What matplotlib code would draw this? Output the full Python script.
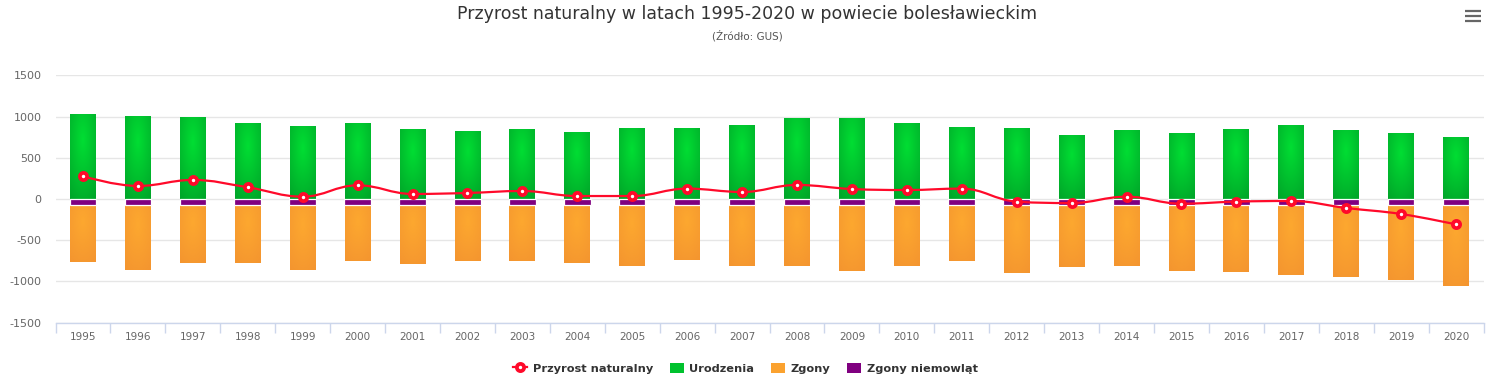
import numpy as np
import matplotlib
matplotlib.use("Agg")
import matplotlib.pyplot as plt
from matplotlib.path import Path
from matplotlib.patches import PathPatch, Patch
from matplotlib.lines import Line2D
from matplotlib.colors import to_rgb

# ---------------- data ----------------
lata = [str(y) for y in range(1995, 2021)]
urodzenia = [1021, 996, 984, 911, 875, 911, 838, 814, 838, 802, 851, 851, 887,
             972, 972, 911, 863, 851, 765, 826, 790, 838, 887, 826, 790, 741]
zgony_razem = [765, 863, 778, 778, 863, 753, 790, 753, 753, 778, 814, 741, 814,
               814, 875, 814, 753, 899, 826, 814, 875, 887, 923, 948, 984, 1057]
zgony_niemowlat = [70] * 26
przyrost = [275, 158, 231, 142, 28, 166, 61, 73, 97, 36, 36, 126, 85,
            170, 121, 109, 126, -32, -49, 28, -57, -32, -24, -109, -182, -308]

zgony = [t - n for t, n in zip(zgony_razem, zgony_niemowlat)]

plt.rcParams['font.family'] = ['DejaVu Sans']

fig = plt.figure(figsize=(15, 3.9), dpi=100)
ax = fig.add_axes([0.037, 0.1726, 0.952, 0.6343])

x = np.arange(len(lata))
w = 0.47


def radial(c0, c1, n=80, m=30, r=0.85):
    c0 = np.array(to_rgb(c0)); c1 = np.array(to_rgb(c1))
    v = np.linspace(0, 1, n)[:, None]
    u = np.linspace(0, 1, m)[None, :]
    d = np.sqrt((u - 0.5) ** 2 + (v - 0.3) ** 2) / r
    d = np.clip(d, 0, 1)[..., None]
    return c0 * (1 - d) + c1 * d


g_green = radial('#00de33', '#00a529')
g_orange = radial('#fda82f', '#f4952f')
purple = '#800080'

for i in range(len(x)):
    ax.imshow(g_green, extent=[x[i] - w / 2, x[i] + w / 2, 0, urodzenia[i]],
              origin='upper', aspect='auto', zorder=2, interpolation='bilinear')
    top = -zgony_niemowlat[i]
    bot = top - zgony[i]
    ax.imshow(g_orange, extent=[x[i] - w / 2, x[i] + w / 2, bot, top],
              origin='upper', aspect='auto', zorder=2, interpolation='bilinear')

ax.bar(x, [-n for n in zgony_niemowlat], width=w + 0.012, color=purple, edgecolor='white',
       linewidth=0.9, zorder=3)


# Highcharts-like spline
def spline_path(xs, ys, smoothing=1.5):
    n = len(xs)
    denom = smoothing + 1
    lc = [None] * n
    rc = [None] * n
    for i in range(n):
        px, py = xs[i], ys[i]
        if i == 0 or i == n - 1:
            lc[i] = (px, py); rc[i] = (px, py); continue
        lx, ly = xs[i - 1], ys[i - 1]
        nx, ny = xs[i + 1], ys[i + 1]
        lcx = (smoothing * px + lx) / denom
        lcy = (smoothing * py + ly) / denom
        rcx = (smoothing * px + nx) / denom
        rcy = (smoothing * py + ny) / denom
        corr = 0
        if rcx != lcx:
            corr = ((rcy - lcy) * (rcx - px)) / (rcx - lcx) + py - rcy
        lcy += corr; rcy += corr
        if lcy > ly and lcy > py:
            lcy = max(ly, py); rcy = 2 * py - lcy
        elif lcy < ly and lcy < py:
            lcy = min(ly, py); rcy = 2 * py - lcy
        if rcy > ny and rcy > py:
            rcy = max(ny, py); lcy = 2 * py - rcy
        elif rcy < ny and rcy < py:
            rcy = min(ny, py); lcy = 2 * py - rcy
        lc[i] = (lcx, lcy); rc[i] = (rcx, rcy)
    verts = [(xs[0], ys[0])]
    codes = [Path.MOVETO]
    for i in range(1, n):
        verts += [rc[i - 1], lc[i], (xs[i], ys[i])]
        codes += [Path.CURVE4] * 3
    return Path(verts, codes)


red = '#ff0a2a'
ax.add_patch(PathPatch(spline_path(list(x.astype(float)), [float(v) for v in przyrost]),
                       facecolor='none', edgecolor=red, linewidth=1.6, zorder=4))
ax.plot(x, przyrost, linestyle='none', marker='o', markersize=5.2,
        markerfacecolor='white', markeredgecolor=red, markeredgewidth=2.7, zorder=5)

# axes styling
ax.set_xlim(-0.5, len(x) - 0.5)
ax.set_ylim(-1500, 1500)
ax.set_yticks(range(-1500, 1501, 500))
ax.set_yticklabels([str(v) for v in range(-1500, 1501, 500)])
ax.yaxis.grid(True, color='#e6e6e6', linewidth=1)
ax.set_axisbelow(True)
for s in ['top', 'right', 'left']:
    ax.spines[s].set_visible(False)
ax.spines['bottom'].set_color('#ccd6eb')
ax.spines['bottom'].set_linewidth(1)
ax.tick_params(axis='y', length=0, pad=10, labelsize=8, labelcolor='#666666')
ax.set_xticks(x)
ax.set_xticklabels(lata)
ax.tick_params(axis='x', length=0, pad=7, labelsize=7.5, labelcolor='#666666')
ax.set_xticks(np.arange(-0.5, len(x), 1.0), minor=True)
ax.tick_params(axis='x', which='minor', length=7, color='#ccd6eb', width=1)

# title
fig.text(0.498, 0.964, 'Przyrost naturalny w latach 1995-2020 w powiecie bolesławieckim',
         ha='center', va='center', fontsize=12.5, color='#333333')
fig.text(0.498, 0.908, '(Źródło: GUS)', ha='center', va='center', fontsize=7.5, color='#555555')

# menu icon
for yy in [0.946, 0.959, 0.972]:
    fig.add_artist(Line2D([0.9767, 0.9873], [yy, yy], color='#666666', linewidth=1.6,
                          solid_capstyle='butt', transform=fig.transFigure))

handles = [
    Line2D([0], [0], color=red, linewidth=1.6, marker='o', markersize=5.2,
           markerfacecolor='white', markeredgecolor=red, markeredgewidth=2.7),
    Patch(facecolor='#00c22e', edgecolor='none'),
    Patch(facecolor='#fba22f', edgecolor='none'),
    Patch(facecolor=purple, edgecolor='none'),
]
labels = ['Przyrost naturalny', 'Urodzenia', 'Zgony', 'Zgony niemowląt']
fig.legend(handles, labels, loc='center', bbox_to_anchor=(0.497, 0.056), ncol=4,
           frameon=False, prop={'weight': 'bold', 'size': 8.2}, labelcolor='#333333',
           handlelength=1.2, handleheight=1.0, handletextpad=0.5, columnspacing=1.5)

fig.savefig('out.png', dpi=100, facecolor='white')
